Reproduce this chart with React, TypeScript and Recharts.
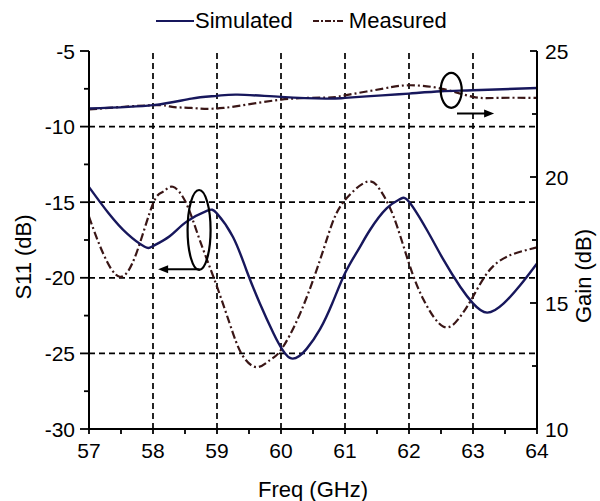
import { LineChart, Line, XAxis, YAxis, ReferenceLine, ReferenceDot } from "recharts";

const FONT = '"Liberation Sans", Arial, sans-serif';
const NAVY = "#17175c";
const BROWN = "#3a1616";

// S11 (left axis, dB)
const simS11Freq = [57.0, 57.3, 57.6, 57.87, 58.0, 58.26, 58.52, 58.84, 59.0, 59.25, 59.46, 59.67, 59.88, 60.14, 60.4, 60.61, 60.8, 61.0, 61.2, 61.39, 61.65, 61.86, 62.0, 62.28, 62.54, 62.8, 63.0, 63.22, 63.48, 63.74, 64.0];
const simS11 = [-14.0, -15.7, -17.1, -17.95, -17.9, -17.25, -16.3, -15.57, -15.75, -17.3, -19.5, -21.7, -23.65, -25.3, -24.7, -23.4, -21.7, -19.7, -18.2, -16.84, -15.41, -14.8, -14.97, -16.84, -18.82, -20.59, -21.69, -22.3, -21.69, -20.48, -19.05];

const measS11Freq = [57.0, 57.22, 57.48, 57.74, 58.0, 58.16, 58.31, 58.52, 58.73, 59.0, 59.25, 59.41, 59.62, 59.83, 60.0, 60.3, 60.61, 60.8, 61.0, 61.34, 61.55, 61.76, 62.0, 62.23, 62.54, 62.8, 63.0, 63.22, 63.53, 64.0];
const measS11 = [-15.96, -18.38, -19.93, -18.38, -15.1, -14.3, -13.98, -15.08, -17.5, -20.59, -23.67, -25.21, -25.91, -25.43, -24.77, -22.35, -18.82, -16.4, -14.86, -13.65, -14.2, -15.96, -19.05, -21.47, -23.23, -22.57, -21.25, -19.7, -18.6, -17.99];

// Gain (right axis, dB)
const simGainFreq = [57.0, 58.0, 58.6, 59.0, 59.32, 60.0, 60.7, 61.0, 61.58, 62.0, 62.5, 63.0, 64.0];
const simGain = [22.72, 22.85, 23.11, 23.22, 23.27, 23.18, 23.11, 23.14, 23.24, 23.31, 23.4, 23.44, 23.53];

const measGainFreq = [57.0, 58.0, 58.3, 58.6, 59.1, 60.0, 60.7, 61.0, 61.6, 62.0, 62.5, 63.0, 63.4, 64.0];
const measGain = [22.68, 22.85, 22.78, 22.74, 22.74, 23.07, 23.15, 23.24, 23.51, 23.64, 23.51, 23.18, 23.14, 23.14];

// axes
const xTicks = [57, 57.5, 58, 58.5, 59, 59.5, 60, 60.5, 61, 61.5, 62, 62.5, 63, 63.5, 64];
const leftTicks = [-30, -27.5, -25, -22.5, -20, -17.5, -15, -12.5, -10, -7.5, -5];
const rightTicks = [10, 12.5, 15, 17.5, 20, 22.5, 25];
const gridX = [58, 59, 60, 61, 62, 63];
const gridY = [-10, -15, -20, -25];

// annotations (data coordinates)
const leftMarker = { x: 58.72, y: -16.84 };
const leftArrow = [{ x: 58.73, y: -19.44 }, { x: 58.08, y: -19.44 }];
const rightMarker = { x: 62.66, y: 23.44 };
const rightArrow = [{ x: 62.75, y: 22.52 }, { x: 63.33, y: 22.52 }];

const zip = (xs: number[], ys: number[]) => xs.map((f, i) => ({ f, v: ys[i] }));

function BottomTick({ x, y, payload }: any) {
  const major = Number.isInteger(payload.value);
  return (
    <g>
      <line x1={x} x2={x} y1={y} y2={y + 5} stroke="#000" strokeWidth={1.8} />
      {major && (
        <text x={x} y={y + 29} textAnchor="middle" fontSize={21} fontFamily={FONT} fill="#000">
          {payload.value}
        </text>
      )}
    </g>
  );
}

function LeftTick({ x, y, payload }: any) {
  const major = payload.value % 5 === 0;
  return (
    <g>
      <line x1={x} x2={x - (major ? 9 : 5)} y1={y} y2={y} stroke="#000" strokeWidth={1.8} />
      {major && (
        <text x={x - 14} y={y} dy="0.36em" textAnchor="end" fontSize={21} fontFamily={FONT} fill="#000">
          {payload.value}
        </text>
      )}
    </g>
  );
}

function RightTick({ x, y, payload }: any) {
  const major = payload.value % 5 === 0;
  return (
    <g>
      <line x1={x} x2={x - (major ? 7 : 5)} y1={y} y2={y} stroke="#000" strokeWidth={1.8} />
      {major && (
        <text x={x + 8} y={y} dy="0.36em" textAnchor="start" fontSize={21} fontFamily={FONT} fill="#000">
          {payload.value}
        </text>
      )}
    </g>
  );
}

function LeftTitle({ viewBox }: any) {
  const cx = viewBox.x - 6;
  const cy = viewBox.y + viewBox.height / 2 + 17;
  return (
    <text x={cx} y={cy} transform={`rotate(-90, ${cx}, ${cy})`} textAnchor="middle" dy="0.36em" fontSize={22} fontFamily={FONT} fill="#000">
      S11 (dB)
    </text>
  );
}

function RightTitle({ viewBox }: any) {
  const cx = viewBox.x + 46;
  const cy = viewBox.y + viewBox.height / 2 + 36;
  return (
    <text x={cx} y={cy} transform={`rotate(-90, ${cx}, ${cy})`} textAnchor="middle" dy="0.36em" fontSize={22} fontFamily={FONT} fill="#000">
      Gain (dB)
    </text>
  );
}

const ellipse = (rx: number, ry: number) => (p: any) => (
  <ellipse cx={p.cx} cy={p.cy} rx={rx} ry={ry} fill="none" stroke="#000" strokeWidth={2.2} />
);

const arrow = (p: any) => {
  const { x1, y1, x2, y2 } = p;
  const dir = x2 > x1 ? 1 : -1;
  return (
    <g>
      <line x1={x1} y1={y1} x2={x2 - dir * 6} y2={y2} stroke="#000" strokeWidth={2} />
      <polygon points={`${x2},${y2} ${x2 - dir * 10},${y2 - 4} ${x2 - dir * 10},${y2 + 4}`} fill="#000" />
    </g>
  );
};

function LegendBar() {
  return (
    <div
      style={{
        position: "absolute",
        left: 156,
        top: 8,
        display: "flex",
        alignItems: "center",
        fontFamily: FONT,
        fontSize: 22,
        color: "#000",
        whiteSpace: "nowrap",
      }}
    >
      <svg width={38} height={10}>
        <line x1={0} x2={38} y1={5} y2={5} stroke={NAVY} strokeWidth={2.2} />
      </svg>
      <span style={{ marginLeft: 1 }}>Simulated</span>
      <svg width={32} height={10} style={{ marginLeft: 20 }}>
        <line x1={0} x2={32} y1={5} y2={5} stroke={BROWN} strokeWidth={2} strokeDasharray="6 2 2 2" />
      </svg>
      <span style={{ marginLeft: 4 }}>Measured</span>
    </div>
  );
}

export default function App() {
  return (
    <div style={{ position: "absolute", left: 0, top: 0, width: 600, height: 501, background: "#fff" }}>
      <LegendBar />
      <LineChart width={600} height={501} margin={{ top: 51, right: 3, bottom: 0, left: 29 }}>
        <XAxis
          dataKey="f"
          type="number"
          domain={[57, 64]}
          ticks={xTicks}
          interval={0}
          height={72}
          tickSize={0}
          tickMargin={0}
          tick={<BottomTick />}
          axisLine={{ stroke: "#000", strokeWidth: 2 }}
          tickLine={false}
          allowDataOverflow
          label={{ value: "Freq (GHz)", position: "insideBottom", offset: 4, fill: "#000", fontSize: 22, fontFamily: FONT }}
        />
        <XAxis
          xAxisId="top"
          orientation="top"
          type="number"
          domain={[57, 64]}
          height={0}
          tick={false}
          tickLine={false}
          axisLine={{ stroke: "#000", strokeWidth: 2 }}
        />
        <YAxis
          yAxisId="left"
          type="number"
          domain={[-30, -5]}
          ticks={leftTicks}
          interval={0}
          width={60}
          tickSize={0}
          tickMargin={0}
          tick={<LeftTick />}
          tickLine={false}
          axisLine={{ stroke: "#000", strokeWidth: 2 }}
          allowDataOverflow
          label={{ content: <LeftTitle /> }}
        />
        <YAxis
          yAxisId="right"
          orientation="right"
          type="number"
          domain={[10, 25]}
          ticks={rightTicks}
          interval={0}
          width={60}
          tickSize={0}
          tickMargin={0}
          tick={<RightTick />}
          tickLine={false}
          axisLine={{ stroke: "#000", strokeWidth: 2 }}
          allowDataOverflow
          label={{ content: <RightTitle /> }}
        />

        {gridX.map((g) => (
          <ReferenceLine key={`gx${g}`} x={g} yAxisId="left" stroke="#000" strokeWidth={1.7} strokeDasharray="6 4" />
        ))}
        {gridY.map((g) => (
          <ReferenceLine key={`gy${g}`} y={g} yAxisId="left" stroke="#000" strokeWidth={1.7} strokeDasharray="6 4" />
        ))}

        <Line data={zip(measS11Freq, measS11)} dataKey="v" yAxisId="left" type="natural" stroke={BROWN} strokeWidth={2.2} strokeDasharray="8 3 2 3" dot={false} isAnimationActive={false} />
        <Line data={zip(measGainFreq, measGain)} dataKey="v" yAxisId="right" type="natural" stroke={BROWN} strokeWidth={2.2} strokeDasharray="8 3 2 3" dot={false} isAnimationActive={false} />
        <Line data={zip(simS11Freq, simS11)} dataKey="v" yAxisId="left" type="natural" stroke={NAVY} strokeWidth={2.4} dot={false} isAnimationActive={false} />
        <Line data={zip(simGainFreq, simGain)} dataKey="v" yAxisId="right" type="natural" stroke={NAVY} strokeWidth={2.4} dot={false} isAnimationActive={false} />

        <ReferenceDot x={leftMarker.x} y={leftMarker.y} yAxisId="left" r={0} shape={ellipse(11.5, 40)} />
        <ReferenceLine yAxisId="left" segment={leftArrow} shape={arrow} />
        <ReferenceDot x={rightMarker.x} y={rightMarker.y} yAxisId="right" r={0} shape={ellipse(10.5, 17.5)} />
        <ReferenceLine yAxisId="right" segment={rightArrow} shape={arrow} />
      </LineChart>
    </div>
  );
}
